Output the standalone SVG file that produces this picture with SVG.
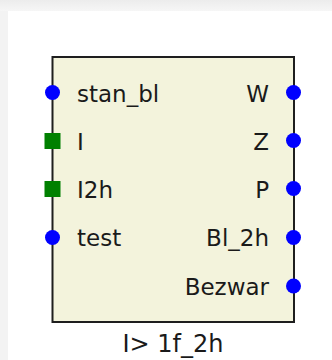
<svg xmlns="http://www.w3.org/2000/svg" width="332" height="360" viewBox="0 0 332 360">
<defs>
<linearGradient id="bgT" x1="0" y1="0" x2="0" y2="1"><stop offset="0" stop-color="#ececec"/><stop offset="1" stop-color="#f6f6f6"/></linearGradient>
</defs>
<style>
.lbl{font-family:Verdana,"DejaVu Sans",sans-serif;font-size:23px;fill:#1a1a1a}
.r{text-anchor:end}
.in{fill:#0000ff}
.sq{fill:#008000}
.box{fill:#f3f3dc;stroke:#1e1e1e;stroke-width:2}
</style>
<rect x="0" y="0" width="332" height="360" fill="#f3f3f3"/>
<rect x="0" y="0" width="332" height="11" fill="url(#bgT)"/>
<rect x="8" y="11" width="324" height="349" fill="#ffffff"/>
<g id="connectors"></g>
<g id="block">
<rect class="box" x="52.5" y="57" width="241.5" height="265"/>
<text class="lbl" x="173" y="352" text-anchor="middle" style="font-size:24px">I&gt; 1f_2h</text>
</g>
<g id="port-stan_bl"><circle class="in" cx="52.5" cy="92.5" r="7.5"/><text class="lbl" x="77" y="101.5">stan_bl</text></g>
<g id="port-I"><rect class="sq" x="44.5" y="133" width="16" height="16"/><text class="lbl" x="77" y="149.5">I</text></g>
<g id="port-I2h"><rect class="sq" x="44.5" y="181" width="16" height="16"/><text class="lbl" x="77" y="197.5">I2h</text></g>
<g id="port-test"><circle class="in" cx="52.5" cy="237.5" r="7.5"/><text class="lbl" x="77" y="246">test</text></g>
<g id="port-W"><circle class="in" cx="293.5" cy="92.5" r="7.5"/><text class="lbl r" x="269" y="101.5">W</text></g>
<g id="port-Z"><circle class="in" cx="293.5" cy="140.5" r="7.5"/><text class="lbl r" x="269" y="149.5">Z</text></g>
<g id="port-P"><circle class="in" cx="293.5" cy="188.5" r="7.5"/><text class="lbl r" x="269" y="197.5">P</text></g>
<g id="port-Bl_2h"><circle class="in" cx="293.5" cy="237.5" r="7.5"/><text class="lbl r" x="269" y="246">Bl_2h</text></g>
<g id="port-Bezwar"><circle class="in" cx="293.5" cy="286" r="7.5"/><text class="lbl r" x="269" y="294.5">Bezwar</text></g>
</svg>
